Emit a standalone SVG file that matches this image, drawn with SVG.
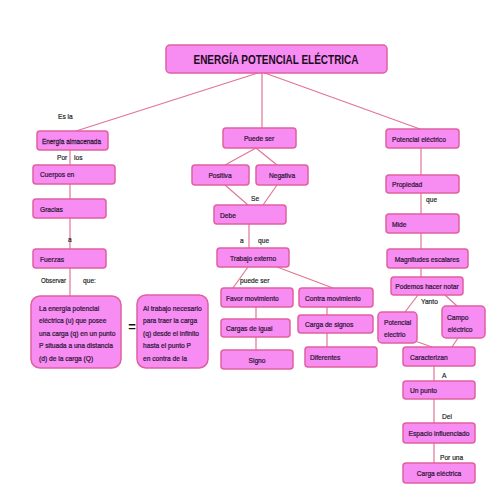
<svg xmlns="http://www.w3.org/2000/svg" width="495" height="495" viewBox="0 0 495 495">
<style>
.n rect{fill:#f78cf2;stroke:#e0609e;stroke-width:1.5}
.t{font-family:"Liberation Sans",Arial,sans-serif;font-size:8px;fill:#2e1638;stroke:#2e1638;stroke-width:0.25}
.c{text-anchor:middle}
.l{font-family:"Liberation Sans",Arial,sans-serif;font-size:8px;fill:#222;stroke:#222;stroke-width:0.2}
#edges line{stroke:#e37495;stroke-width:1.2}
</style>
<rect width="495" height="495" fill="#fff"/>
<g id="edges">
<line x1="261" y1="72" x2="76" y2="131"/>
<line x1="262" y1="72" x2="262" y2="128"/>
<line x1="262" y1="72" x2="420" y2="129"/>
<line x1="70" y1="150" x2="70" y2="165"/>
<line x1="70" y1="184" x2="70" y2="199"/>
<line x1="70" y1="218" x2="70" y2="249"/>
<line x1="70" y1="268" x2="70" y2="296"/>
<line x1="256" y1="148" x2="225" y2="165"/>
<line x1="256" y1="148" x2="277" y2="165"/>
<line x1="225" y1="185" x2="248" y2="205"/>
<line x1="277" y1="185" x2="263" y2="205"/>
<line x1="249" y1="224" x2="249" y2="248"/>
<line x1="248" y1="267" x2="233" y2="288"/>
<line x1="277" y1="267" x2="333" y2="288"/>
<line x1="256" y1="307" x2="256" y2="319"/>
<line x1="256" y1="337" x2="256" y2="350"/>
<line x1="327" y1="307" x2="327" y2="315"/>
<line x1="327" y1="333" x2="327" y2="347"/>
<line x1="421" y1="148" x2="421" y2="175"/>
<line x1="421" y1="193" x2="421" y2="214"/>
<line x1="421" y1="233" x2="421" y2="249"/>
<line x1="421" y1="268" x2="421" y2="277"/>
<line x1="418" y1="295" x2="405" y2="312"/>
<line x1="445" y1="295" x2="457" y2="306"/>
<line x1="415" y1="341" x2="432" y2="347"/>
<line x1="458" y1="338" x2="452" y2="347"/>
<line x1="434" y1="366" x2="434" y2="381"/>
<line x1="434" y1="399" x2="434" y2="423"/>
<line x1="434" y1="443" x2="434" y2="463"/>
</g>
<g id="title" class="n"><rect x="166" y="45" width="221" height="28" rx="4"/><text x="276" y="64" class="c" font-family="'Liberation Sans',Arial,sans-serif" font-weight="bold" font-size="13" fill="#1a0a20" textLength="165" lengthAdjust="spacingAndGlyphs">ENERGÍA POTENCIAL ELÉCTRICA</text></g>
<g id="energia" class="n"><rect x="37" y="131" width="71" height="19" rx="3"/><text transform="translate(42,144) scale(.8,1)" class="t">Energía almacenada</text></g>
<g id="cuerpos" class="n"><rect x="33" y="165" width="82" height="19" rx="3"/><text transform="translate(40,177) scale(.83,1)" class="t">Cuerpos en</text></g>
<g id="gracias" class="n"><rect x="33" y="199" width="73" height="19" rx="3"/><text transform="translate(40,212) scale(.83,1)" class="t">Gracias</text></g>
<g id="fuerzas" class="n"><rect x="33" y="249" width="73" height="19" rx="3"/><text transform="translate(40,262) scale(.83,1)" class="t">Fuerzas</text></g>
<g id="energiaU" class="n"><rect x="31" y="296" width="90" height="72" rx="9"/>
<text class="t" transform="translate(39,0) scale(.83,1)"><tspan x="0" y="311">La energía potencial</tspan><tspan x="0" y="323.5">eléctrica (u) que posee</tspan><tspan x="0" y="336">una carga (q)  en un punto</tspan><tspan x="0" y="348.5">P   situada a una distancia</tspan><tspan x="0" y="361">(d)  de la carga (Q)</tspan></text></g>
<g id="trabajoNec" class="n"><rect x="137" y="295" width="71" height="73" rx="9"/>
<text class="t" transform="translate(143,0) scale(.83,1)"><tspan x="0" y="311">Al trabajo necesario</tspan><tspan x="0" y="323.5">para traer la carga</tspan><tspan x="0" y="336">(q) desde el infinito</tspan><tspan x="0" y="348.5">hasta el  punto P</tspan><tspan x="0" y="361">en contra de la</tspan></text></g>
<g id="puede" class="n"><rect x="223" y="128" width="73" height="20" rx="3"/><text transform="translate(259,141) scale(.83,1)" class="t c">Puede ser</text></g>
<g id="positiva" class="n"><rect x="192" y="165" width="57" height="20" rx="3"/><text transform="translate(220,178) scale(.83,1)" class="t c">Positiva</text></g>
<g id="negativa" class="n"><rect x="256" y="165" width="52" height="20" rx="3"/><text transform="translate(282,178) scale(.83,1)" class="t c">Negativa</text></g>
<g id="debe" class="n"><rect x="214" y="205" width="72" height="19" rx="3"/><text transform="translate(220,218) scale(.83,1)" class="t">Debe</text></g>
<g id="trabajo" class="n"><rect x="217" y="248" width="72" height="19" rx="3"/><text transform="translate(253,261) scale(.83,1)" class="t c">Trabajo externo</text></g>
<g id="favor" class="n"><rect x="221" y="288" width="72" height="19" rx="3"/><text transform="translate(226,301) scale(.83,1)" class="t">Favor movimiento</text></g>
<g id="contra" class="n"><rect x="299" y="288" width="74" height="19" rx="3"/><text transform="translate(305,301) scale(.83,1)" class="t">Contra movimiento</text></g>
<g id="cargasIgual" class="n"><rect x="221" y="319" width="69" height="18" rx="3"/><text transform="translate(226,331) scale(.83,1)" class="t">Cargas de igual</text></g>
<g id="signo" class="n"><rect x="221" y="350" width="72" height="19" rx="3"/><text transform="translate(257,363) scale(.83,1)" class="t c">Signo</text></g>
<g id="cargaSignos" class="n"><rect x="298" y="315" width="75" height="18" rx="3"/><text transform="translate(305,327) scale(.83,1)" class="t">Carga de signos</text></g>
<g id="diferentes" class="n"><rect x="305" y="347" width="72" height="20" rx="3"/><text transform="translate(310,360) scale(.83,1)" class="t">Diferentes</text></g>
<g id="potencial" class="n"><rect x="386" y="129" width="73" height="19" rx="3"/><text transform="translate(392,142) scale(.83,1)" class="t">Potencial eléctrico</text></g>
<g id="propiedad" class="n"><rect x="386" y="175" width="73" height="18" rx="3"/><text transform="translate(392,187) scale(.83,1)" class="t">Propiedad</text></g>
<g id="mide" class="n"><rect x="386" y="214" width="73" height="19" rx="3"/><text transform="translate(392,227) scale(.83,1)" class="t">Mide</text></g>
<g id="magnitudes" class="n"><rect x="387" y="249" width="81" height="19" rx="3"/><text transform="translate(427,262) scale(.83,1)" class="t c">Magnitudes escalares</text></g>
<g id="podemos" class="n"><rect x="391" y="277" width="72" height="18" rx="3"/><text transform="translate(427,289) scale(.83,1)" class="t c">Podemos hacer notar</text></g>
<g id="potElectrio" class="n"><rect x="378" y="312" width="39" height="31" rx="4"/><text class="t" transform="translate(384,0) scale(.83,1)"><tspan x="0" y="325">Potencial</tspan><tspan x="0" y="337">electrio</tspan></text></g>
<g id="campo" class="n"><rect x="442" y="306" width="43" height="32" rx="4"/><text class="t" transform="translate(447,0) scale(.83,1)"><tspan x="0" y="320">Campo</tspan><tspan x="1" y="332">eléctrico</tspan></text></g>
<g id="caracterizan" class="n"><rect x="403" y="347" width="72" height="19" rx="3"/><text transform="translate(410,360) scale(.83,1)" class="t">Caracterizan</text></g>
<g id="unpunto" class="n"><rect x="403" y="381" width="72" height="18" rx="3"/><text transform="translate(410,393) scale(.83,1)" class="t">Un punto</text></g>
<g id="espacio" class="n"><rect x="403" y="423" width="72" height="20" rx="3"/><text transform="translate(439,436) scale(.83,1)" class="t c">Espacio  influenciado</text></g>
<g id="carga" class="n"><rect x="403" y="463" width="72" height="20" rx="3"/><text transform="translate(439,476) scale(.83,1)" class="t c">Carga eléctrica</text></g>
<g id="labels">
<text transform="translate(58,119) scale(.83,1)" class="l">Es la</text>
<text transform="translate(57,160) scale(.83,1)" class="l">Por</text>
<text transform="translate(74,160) scale(.83,1)" class="l">los</text>
<text transform="translate(68,242) scale(.83,1)" class="l">a</text>
<text transform="translate(41,283) scale(.76,1)" class="l">Observar</text>
<text transform="translate(83,283) scale(.83,1)" class="l">que:</text>
<text x="132" y="331" font-family="'Liberation Sans',Arial,sans-serif" font-weight="bold" font-size="13" fill="#111" text-anchor="middle">=</text>
<text transform="translate(251,201) scale(.83,1)" class="l">Se</text>
<text transform="translate(240,243) scale(.83,1)" class="l">a</text>
<text transform="translate(258,243) scale(.83,1)" class="l">que</text>
<text transform="translate(240,283) scale(.83,1)" class="l">puede  ser</text>
<text transform="translate(426,202) scale(.83,1)" class="l">que</text>
<text transform="translate(421,304) scale(.83,1)" class="l">Yanto</text>
<text transform="translate(442,378) scale(.83,1)" class="l">A</text>
<text transform="translate(442,419) scale(.83,1)" class="l">Del</text>
<text transform="translate(440,460) scale(.83,1)" class="l">Por una</text>
</g>
</svg>
